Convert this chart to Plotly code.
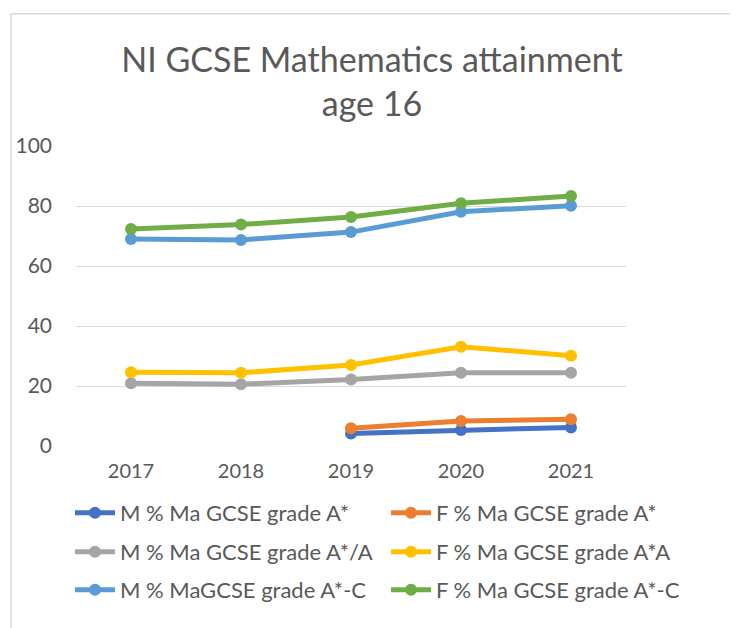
import plotly.graph_objects as go

years = ["2017", "2018", "2019", "2020", "2021"]
m_astar = [None, None, 4.2, 5.3, 6.2]
f_astar = [None, None, 5.9, 8.3, 8.9]
m_astar_a = [20.9, 20.6, 22.2, 24.4, 24.4]
f_astar_a = [24.6, 24.4, 27.0, 33.1, 30.1]
m_astar_c = [69.0, 68.7, 71.3, 78.1, 80.1]
f_astar_c = [72.3, 73.8, 76.3, 80.9, 83.3]

series_names = [
    "M % Ma GCSE grade A*", "F % Ma GCSE grade A*",
    "M % Ma GCSE grade A*/A", "F % Ma GCSE grade A*A",
    "M % MaGCSE grade A*-C", "F % Ma GCSE grade A*-C",
]
series_values = [m_astar, f_astar, m_astar_a, f_astar_a, m_astar_c, f_astar_c]
colors = ["#4472C4", "#ED7D31", "#A5A5A5", "#FFC000", "#5B9BD5", "#70AD47"]

FONT = "Lato"
TXT = "#595959"

# The page body has an 8px margin; the figure is drawn in its own coordinates
OFF = 8
W, H = 738 - OFF, 628 - OFF
L, R = 76 - OFF, 626 - OFF
T, B = 145.5 - OFF, 446 - OFF
pw, ph = R - L, B - T

def px(x):
    return (x - L) / pw

def py(y):
    return (B - y) / ph

legend_keys = ["legend", "legend2", "legend3", "legend4", "legend5", "legend6"]
legend_pos = [(62, 505), (378, 505), (62, 544), (378, 544), (62, 582), (378, 582)]

fig = go.Figure()
for name, vals, col, lg in zip(series_names, series_values, colors, legend_keys):
    fig.add_trace(go.Scatter(
        x=years, y=vals, name=name, mode="lines+markers",
        line=dict(color=col, width=5),
        marker=dict(color=col, size=12),
        legend=lg,
    ))

legends = {}
for key, (lx, ly) in zip(legend_keys, legend_pos):
    legends[key] = dict(
        x=lx / W, y=1 - ly / H, xref="container", yref="container",
        xanchor="left", yanchor="middle", orientation="v",
        font=dict(family=FONT, size=22, color=TXT),
        bgcolor="rgba(0,0,0,0)", itemwidth=40,
    )

fig.update_layout(
    width=W, height=H,
    margin=dict(l=L, r=W - R, t=T, b=H - B, autoexpand=False),
    paper_bgcolor="white", plot_bgcolor="white",
    font=dict(family=FONT, color=TXT),
    title=dict(
        text="NI GCSE Mathematics attainment<br>age 16",
        x=364 / W, xanchor="center", xref="container",
        y=1 - 64 / H, yanchor="middle", yref="container",
        font=dict(family=FONT, size=34, color=TXT),
    ),
    xaxis=dict(
        type="category", range=[-0.5, 4.5],
        showgrid=False, showline=False, zeroline=False,
        ticks="", tickfont=dict(family=FONT, size=20, color=TXT),
        ticklabelstandoff=11,
        fixedrange=True,
    ),
    yaxis=dict(
        range=[0, 100], tickvals=[0, 20, 40, 60, 80, 100],
        showgrid=True, gridcolor="#D9D9D9", gridwidth=1.3,
        zeroline=False, showline=False, ticks="",
        ticklabelstandoff=23,
        tickfont=dict(family=FONT, size=21, color=TXT),
        fixedrange=True,
    ),
    showlegend=True,
    shapes=[
        dict(type="rect", xref="paper", yref="paper",
             x0=px(3), x1=px(725), y0=py(640), y1=py(5),
             line=dict(color="#D9D9D9", width=1.5), layer="below"),
    ],
    **legends,
)

fig.write_html("out.html")
